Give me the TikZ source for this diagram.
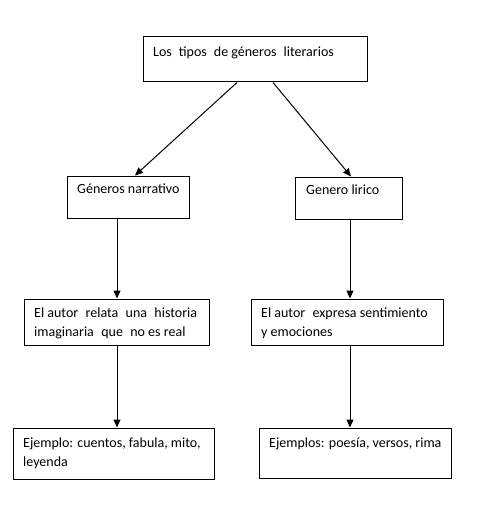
\documentclass[tikz,border=0pt]{standalone}
\usepackage{fontspec}
\setmainfont{Carlito}
\usetikzlibrary{arrows.meta,calc}
\begin{document}
\begin{tikzpicture}[x=1pt,y=-1pt,
  box/.style={draw=black,line width=1pt,inner sep=0pt,fill=none},
  txt/.style={inner sep=0pt,anchor=base west,align=left,font=\fontsize{14}{19}\selectfont},
  arr/.style={line width=1pt,-{Triangle[length=8pt,width=7pt]}}]
\useasboundingbox[fill=white] (0,0) rectangle (488,516);
% boxes
\node[box,minimum width=224pt,minimum height=45pt] (top) at (255,59.5) {};
\node[box,minimum width=122pt,minimum height=42pt] (l2) at (128,197) {};
\node[box,minimum width=107pt,minimum height=42pt] (r2) at (348.5,198) {};
\node[box,minimum width=185pt,minimum height=46pt] (l3) at (116.5,322) {};
\node[box,minimum width=192pt,minimum height=46pt] (r3) at (347,322) {};
\node[box,minimum width=201pt,minimum height=51pt] (l4) at (113.5,453.5) {};
\node[box,minimum width=192pt,minimum height=50pt] (r4) at (355,453) {};
% texts (multi-line nodes are placed at the baseline of their last line)
\node[txt] (t0) at (153,57) {Los\hspace{0.5em}tipos\hspace{0.5em}de géneros\hspace{0.5em}literarios};
\node[txt] (t1) at (77,193) {Géneros narrativo};
\node[txt] (t2) at (306,194) {Genero lirico};
\node[txt] (t3) at (34,336) {El autor\hspace{0.3em} relata\hspace{0.3em} una\hspace{0.3em} historia\\imaginaria\hspace{0.3em} que\hspace{0.3em} no es real};
\node[txt] (t4) at (261,336) {El autor\hspace{0.3em} expresa sentimiento\\y emociones};
\node[txt] (t5) at (23,466) {Ejemplo: cuentos, fabula, mito,\\leyenda};
\node[txt] (t6) at (269,447) {Ejemplos: poesía, versos, rima};
% connectors
\draw[arr] ($(top.south)+(-18,0)$) -- ($(l2.north)+(7,0)$);
\draw[arr] ($(top.south)+(18,0)$) -- ($(r2.north)+(2.5,0)$);
\draw[arr] ($(l2.south)+(-11,0)$) -- ($(l3.north)+(0.5,0)$);
\draw[arr] ($(r2.south)+(1.5,0)$) -- ($(r3.north)+(3,0)$);
\draw[arr] ($(l3.south)+(0.5,0)$) -- ($(l4.north)+(3.5,0)$);
\draw[arr] ($(r3.south)+(3,0)$) -- ($(r4.north)+(-5,0)$);
\end{tikzpicture}
\end{document}
